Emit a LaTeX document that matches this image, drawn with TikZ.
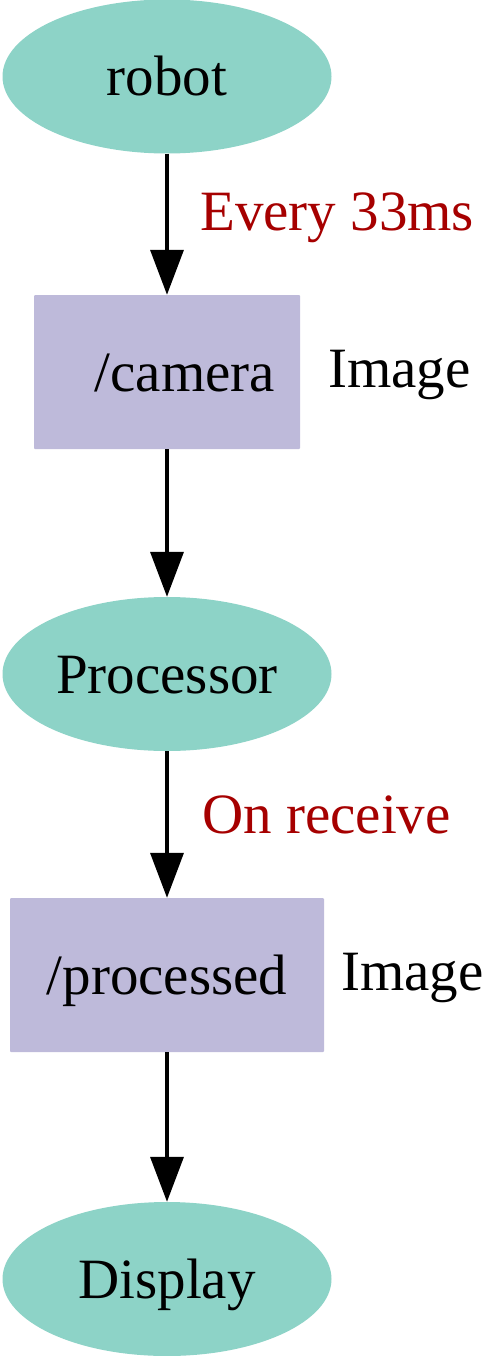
\documentclass[tikz,border=0pt]{standalone}
\usepackage{fontspec}
\setmainfont{Liberation Serif}
\usepackage{tikz}
\usetikzlibrary{shapes.geometric,arrows.meta}

\definecolor{nodegreen}{RGB}{141,211,199}
\definecolor{topicblue}{RGB}{190,186,218}
\definecolor{ratered}{RGB}{166,0,0}

\tikzset{
	rosnode/.style={ellipse, fill=nodegreen, inner sep=0, minimum width=329pt, minimum height=154pt,
		font=\fontsize{57}{68}\selectfont, text height=51pt, text depth=12.5pt},
	topic/.style={rectangle, fill=topicblue, rounded corners=1pt, inner sep=0, minimum height=154pt,
		font=\fontsize{57}{68}\selectfont, text height=51pt, text depth=12.5pt},
	note/.style={inner sep=0, anchor=base west, font=\fontsize{57}{68}\selectfont},
	flow/.style={line width=3.6pt, -{Triangle[length=45pt,width=33pt]}}
}

\begin{document}
\begin{tikzpicture}[x=1pt, y=-1pt]
	\useasboundingbox (0,0) rectangle (483,1356);

	\node[rosnode] (robot) at (167, 76.5) {robot};
	\node[topic, minimum width=266pt] (camera) at (167, 372) {\hspace*{36pt}/camera};
	\node[rosnode] (processor) at (167, 674) {Processor};
	\node[topic, minimum width=314pt] (processed) at (167, 975) {/processed};
	\node[rosnode] (display) at (167, 1279) {Display};

	\node[note, text=ratered] (every) at (200, 231) {Every 33ms};
	\node[note] (camtype) at (328, 387) {Image};
	\node[note, text=ratered] (receive) at (202, 833) {On receive};
	\node[note] (proctype) at (341, 990) {Image};

	\draw[flow] (robot) -- (camera);
	\draw[flow] (camera) -- (processor);
	\draw[flow] (processor) -- (processed);
	\draw[flow] (processed) -- (display);
\end{tikzpicture}
\end{document}
